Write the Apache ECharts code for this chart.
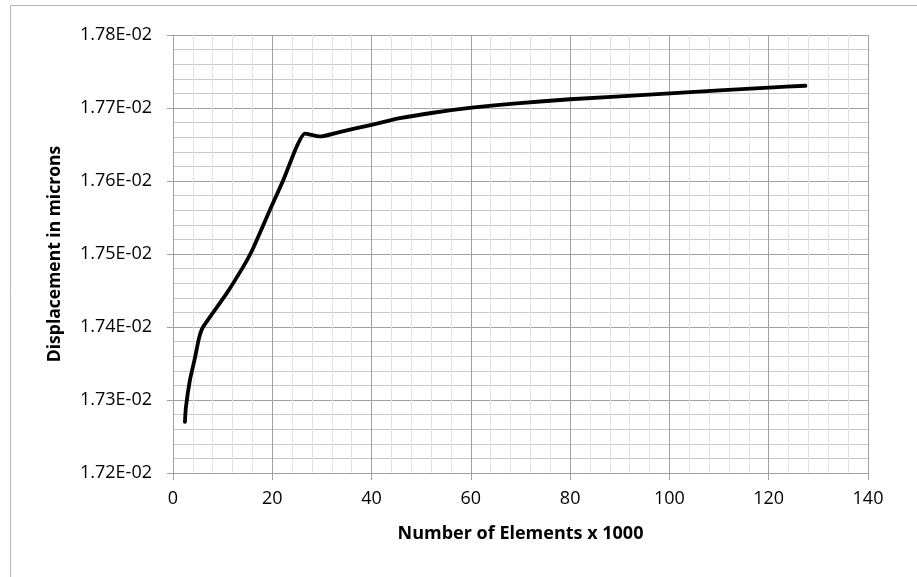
<!DOCTYPE html>
<html>
<head>
<meta charset="utf-8">
<script src="https://cdn.jsdelivr.net/npm/echarts@6/dist/echarts.min.js"></script>
<style>
  html, body { margin: 0; padding: 0; background: #ffffff; }
  #chart { width: 917px; height: 577px; }
</style>
</head>
<body>
<div id="chart"></div>
<script>
// Data
const elementsK = [2.4, 2.6, 3.4, 4.4, 5.25, 6.05, 10.8, 14.1, 15.8, 19.5, 22.2, 24.9, 26.55, 29.6, 33.5, 40.0, 45.7, 52.4, 60.2, 69.2, 80.0, 100.1, 120.0, 127.4];
const displacement = [0.017270, 0.017290, 0.017327, 0.017357, 0.017385, 0.017400, 0.017446, 0.017482, 0.017503, 0.017560, 0.017601, 0.017647, 0.017665, 0.017661, 0.017667, 0.017677, 0.017686, 0.0176935, 0.0177004, 0.0177063, 0.017712, 0.017720, 0.017728, 0.0177305];
const xTitle = 'Number of Elements x 1000';
const yTitle = 'Displacement in microns';

const FONT = '"Open Sans", "Liberation Sans", sans-serif';

function sciLabel(v) {
  const s = Number(v).toExponential(2); // e.g. 1.78e-2
  const parts = s.split('e');
  const expNum = parseInt(parts[1], 10);
  const sign = expNum < 0 ? '-' : '+';
  const abs = Math.abs(expNum);
  return parts[0] + 'E' + sign + (abs < 10 ? '0' + abs : String(abs));
}

const chart = echarts.init(document.getElementById('chart'), null, { renderer: 'canvas' });
chart.setOption({
  animation: false,
  backgroundColor: '#ffffff',
  graphic: [{
    type: 'rect',
    silent: true,
    shape: { x: 10.5, y: 5.5, width: 1200, height: 1200 },
    style: { fill: 'none', stroke: '#b4b4b4', lineWidth: 1 }
  }],
  grid: { left: 173, top: 35, right: 49, bottom: 104, containLabel: false },
  xAxis: {
    type: 'value',
    min: 0, max: 140, interval: 20,
    name: xTitle,
    nameLocation: 'middle',
    nameGap: 52,
    nameTextStyle: { fontFamily: FONT, fontSize: 18, fontWeight: 'bold', color: '#000' },
    axisLine: { show: true, lineStyle: { color: '#a0a0a0', width: 1 } },
    axisTick: { show: true, length: 7, inside: false, lineStyle: { color: '#a0a0a0' } },
    axisLabel: { fontFamily: FONT, fontSize: 18, color: '#000', margin: 17 },
    splitLine: { show: true, lineStyle: { color: '#a0a0a0', width: 1 } },
    minorTick: { show: false, splitNumber: 5 },
    minorSplitLine: { show: true, lineStyle: { color: '#e2e2e2', width: 1 } }
  },
  yAxis: {
    type: 'value',
    min: 0.0172, max: 0.0178, interval: 0.0001,
    name: yTitle,
    nameLocation: 'middle',
    nameGap: 109,
    nameTextStyle: { fontFamily: FONT, fontSize: 17.5, fontWeight: 'bold', color: '#000' },
    axisLine: { show: true, lineStyle: { color: '#a0a0a0', width: 1 } },
    axisTick: { show: true, length: 6, inside: false, lineStyle: { color: '#a0a0a0' } },
    axisLabel: { fontFamily: FONT, fontSize: 18, color: '#000', margin: 21, formatter: sciLabel },
    splitLine: { show: true, lineStyle: { color: '#a0a0a0', width: 1 } },
    minorTick: { show: false, splitNumber: 5 },
    minorSplitLine: { show: true, lineStyle: { color: '#c8c8c8', width: 1 } }
  },
  series: [{
    type: 'line',
    data: elementsK.map((x, i) => [x, displacement[i]]),
    showSymbol: false,
    symbol: 'none',
    smooth: 0.2,
    lineStyle: { color: '#000000', width: 3.8, cap: 'round', join: 'round' }
  }]
});
</script>
</body>
</html>
